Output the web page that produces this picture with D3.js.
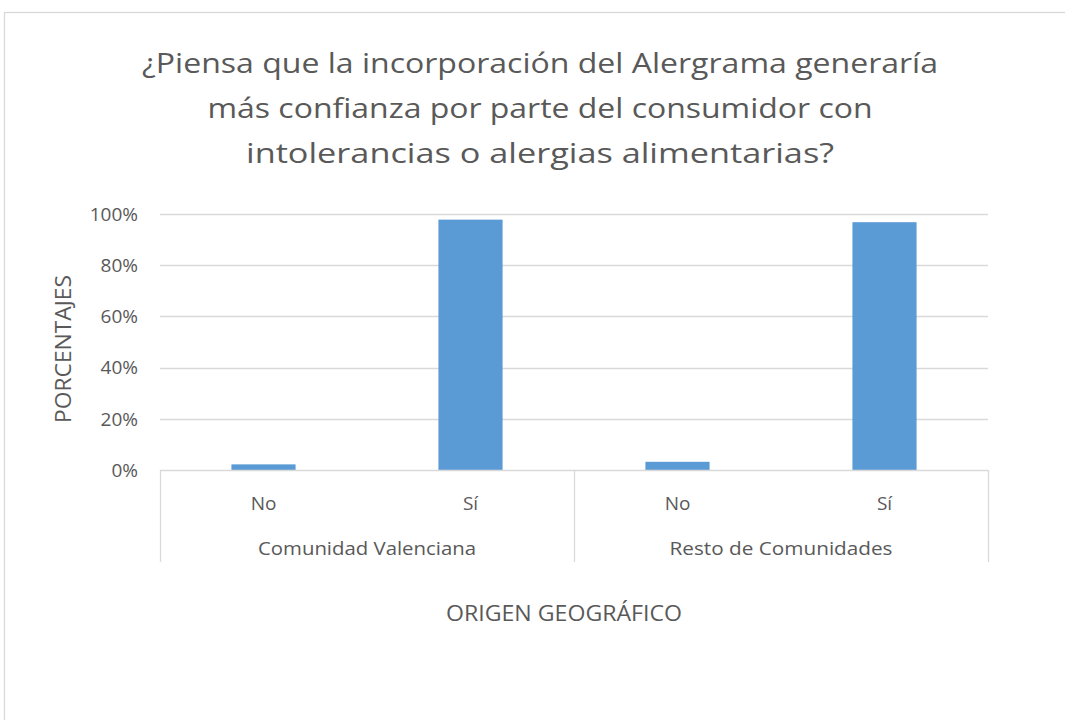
<!DOCTYPE html>
<html>
<head>
<meta charset="utf-8">
<script src="https://cdn.jsdelivr.net/npm/d3@7"></script>
<style>
  body { margin: 0; background: #fff; }
  svg { display: block; font-family: "Open Sans", sans-serif; }
</style>
</head>
<body>
<svg id="chart" width="1065" height="720"></svg>
<script>
// data
var groups = ["Comunidad Valenciana", "Resto de Comunidades"];
var answers = ["No", "Sí"];
var valencia = [2.2, 97.8];
var resto = [3.2, 96.8];
var yTicks = [0, 20, 40, 60, 80, 100];
var titleLines = [
    "¿Piensa que la incorporación del Alergrama generaría",
    "más confianza por parte del consumidor con",
    "intolerancias o alergias alimentarias?"
];

var rows = [];
[valencia, resto].forEach(function(vals, gi) {
    answers.forEach(function(a, ai) {
        rows.push({ key: gi + "-" + a, group: groups[gi], answer: a, value: vals[ai] });
    });
});

var margin = { top: 214, left: 160 },
    width = 828,
    height = 256;

var svg = d3.select("#chart");

// chart frame
svg.append("rect")
    .attr("x", 4.5)
    .attr("y", 12.5)
    .attr("width", 1200)
    .attr("height", 900)
    .style("fill", "none")
    .style("stroke", "#d9d9d9")
    .style("stroke-width", 1.3);

// title
svg.append("g").selectAll("text")
    .data(titleLines)
    .enter().append("text")
    .attr("x", 540)
    .attr("y", (d, i) => 73 + i * 45)
    .attr("text-anchor", "middle")
    .attr("textLength", (d, i) => [796, 665, 588][i])
    .attr("lengthAdjust", "spacingAndGlyphs")
    .style("font-size", "28px")
    .style("fill", "#595959")
    .text(d => d);

var g = svg.append("g")
    .attr("transform", "translate(" + margin.left + "," + margin.top + ")");

var x = d3.scaleBand().domain(rows.map(d => d.key)).range([0, width]);
var y = d3.scaleLinear().domain([0, 100]).range([height, 0]);

// gridlines
g.selectAll(".grid")
    .data(yTicks.filter(t => t > 0))
    .enter().append("line")
    .attr("class", "grid")
    .attr("x1", 0)
    .attr("x2", width)
    .attr("y1", d => Math.round(y(d)) + 0.5)
    .attr("y2", d => Math.round(y(d)) + 0.5)
    .style("stroke", "#d9d9d9")
    .style("stroke-width", 1.3);

// y tick labels
g.selectAll(".ytick")
    .data(yTicks)
    .enter().append("text")
    .attr("class", "ytick")
    .attr("x", -22)
    .attr("y", d => y(d))
    .attr("dy", "0.36em")
    .attr("text-anchor", "end")
    .style("font-size", "19px")
    .style("fill", "#595959")
    .text(d => d + "%");

// bars
var barW = x.bandwidth() * 0.31;
g.selectAll(".bar")
    .data(rows)
    .enter().append("rect")
    .attr("class", "bar")
    .attr("x", d => x(d.key) + (x.bandwidth() - barW) / 2)
    .attr("width", barW)
    .attr("y", d => y(d.value))
    .attr("height", d => height - y(d.value))
    .style("fill", "#5b9bd5");

// bottom axis line
g.append("line")
    .attr("x1", 0).attr("x2", width)
    .attr("y1", height + 0.5).attr("y2", height + 0.5)
    .style("stroke", "#d9d9d9")
    .style("stroke-width", 1.3);

// group separators
var groupW = width / groups.length;
g.selectAll(".sep")
    .data(d3.range(groups.length + 1))
    .enter().append("line")
    .attr("class", "sep")
    .attr("x1", d => d * groupW + 0.5)
    .attr("x2", d => d * groupW + 0.5)
    .attr("y1", height)
    .attr("y2", height + 92)
    .style("stroke", "#d9d9d9")
    .style("stroke-width", 1.3);

// category labels
g.selectAll(".cat")
    .data(rows)
    .enter().append("text")
    .attr("class", "cat")
    .attr("x", d => x(d.key) + x.bandwidth() / 2)
    .attr("y", height + 40)
    .attr("text-anchor", "middle")
    .style("font-size", "19px")
    .style("fill", "#595959")
    .text(d => d.answer);

// group labels
g.selectAll(".grp")
    .data(groups)
    .enter().append("text")
    .attr("class", "grp")
    .attr("x", (d, i) => i * groupW + groupW / 2)
    .attr("y", height + 85)
    .attr("text-anchor", "middle")
    .attr("textLength", (d, i) => [218, 223][i])
    .attr("lengthAdjust", "spacingAndGlyphs")
    .style("font-size", "19px")
    .style("fill", "#595959")
    .text(d => d);

// x axis title
svg.append("text")
    .attr("x", 564)
    .attr("y", 621)
    .attr("text-anchor", "middle")
    .attr("textLength", 236)
    .attr("lengthAdjust", "spacingAndGlyphs")
    .style("font-size", "21px")
    .style("fill", "#595959")
    .text("ORIGEN GEOGRÁFICO");

// y axis title
svg.append("text")
    .attr("transform", "translate(71,349) rotate(-90)")
    .attr("text-anchor", "middle")
    .attr("textLength", 148)
    .attr("lengthAdjust", "spacingAndGlyphs")
    .style("font-size", "21px")
    .style("fill", "#595959")
    .text("PORCENTAJES");
</script>
</body>
</html>
